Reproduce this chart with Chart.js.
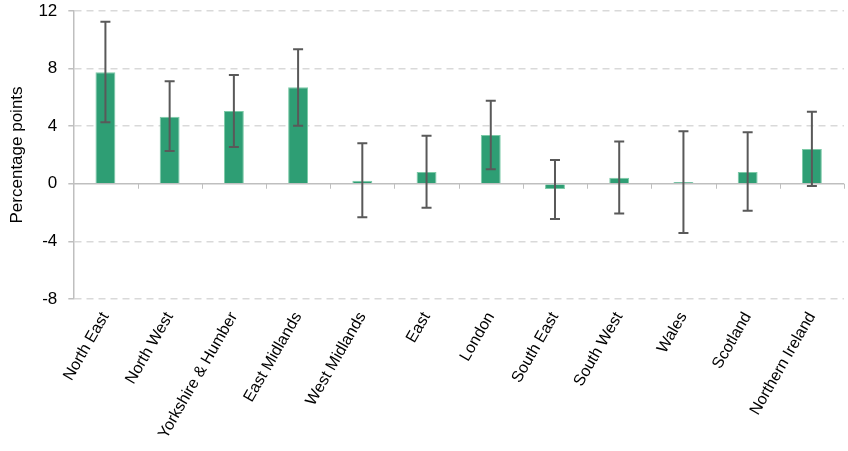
<!DOCTYPE html>
<html>
<head>
<meta charset="utf-8">
<script src="https://cdn.jsdelivr.net/npm/chart.js@4.4.1/dist/chart.umd.min.js"></script>
<style>
  html, body { margin: 0; padding: 0; background: #fff; }
  #wrap { width: 848px; height: 451px; }
</style>
</head>
<body>
<div id="wrap"><canvas id="grafico"></canvas></div>
<script>
const regiones = ['North East', 'North West', 'Yorkshire & Humber', 'East Midlands', 'West Midlands',
  'East', 'London', 'South East', 'South West', 'Wales', 'Scotland', 'Northern Ireland'];
const valores = [7.75, 4.65, 5.05, 6.7, 0.21, 0.82, 3.38, -0.37, 0.42, 0.12, 0.82, 2.42];
const limiteAlto = [11.26, 7.12, 7.56, 9.35, 2.82, 3.33, 5.77, 1.65, 2.93, 3.65, 3.58, 5.0];
const limiteBajo = [4.28, 2.28, 2.56, 4.03, -2.32, -1.67, 1.0, -2.44, -2.07, -3.42, -1.88, -0.16];
const ticksY = [-8, -4, 0, 4, 8, 12];

// barras de error + linea del cero + marcas del eje x
const barrasError = {
    id: 'barrasError',
    beforeDatasetsDraw(chart) {
        const ctx = chart.ctx;
        const x = chart.scales.x;
        const y = chart.scales.y;
        const y0 = y.getPixelForValue(0);
        ctx.save();
        ctx.strokeStyle = '#bfbfbf';
        ctx.lineWidth = 1.5;
        ctx.beginPath();
        ctx.moveTo(chart.chartArea.left, y0);
        ctx.lineTo(chart.chartArea.right, y0);
        ctx.stroke();
        ctx.lineWidth = 1;
        for (let i = 0; i < regiones.length; i++) {
            const px = Math.round((x.getPixelForValue(i) + x.getPixelForValue(i + 1)) / 2) + 0.5;
            ctx.beginPath();
            ctx.moveTo(px, y0);
            ctx.lineTo(px, y0 + 5);
            ctx.stroke();
        }
        ctx.restore();
    },
    afterDatasetsDraw(chart) {
        const ctx = chart.ctx;
        const y = chart.scales.y;
        const meta = chart.getDatasetMeta(0);
        ctx.save();
        ctx.strokeStyle = '#595959';
        ctx.lineWidth = 2;
        meta.data.forEach((bar, i) => {
            const top = y.getPixelForValue(limiteAlto[i]);
            const bot = y.getPixelForValue(limiteBajo[i]);
            ctx.beginPath();
            ctx.moveTo(bar.x, top);
            ctx.lineTo(bar.x, bot);
            ctx.moveTo(bar.x - 5, top);
            ctx.lineTo(bar.x + 5, top);
            ctx.moveTo(bar.x - 5, bot);
            ctx.lineTo(bar.x + 5, bot);
            ctx.stroke();
        });
        ctx.restore();
    }
};

const data = {
    labels: regiones,
    datasets: [{
        data: valores,
        backgroundColor: '#2e9e74',
        borderColor: '#7ccaa7',
        borderWidth: 1,
        barPercentage: 0.62,
        categoryPercentage: 0.5
    }]
};

const config = {
    type: 'bar',
    data: data,
    options: {
        responsive: true,
        maintainAspectRatio: false,
        animation: false,
        plugins: {
            legend: { display: false },
            tooltip: { enabled: false }
        },
        scales: {
            y: {
                min: -8,
                max: 12,
                afterBuildTicks: (axis) => { axis.ticks = ticksY.map(v => ({ value: v })); },
                afterFit: (axis) => { axis.paddingTop = 0; axis.paddingBottom = 0; },
                ticks: {
                    color: '#000',
                    padding: 11,
                    font: { family: 'Liberation Sans', size: 17 }
                },
                grid: {
                    color: (c) => c.tick && c.tick.value === 0 ? 'rgba(0,0,0,0)' : '#d9d9d9',
                    tickColor: '#bfbfbf',
                    tickLength: 5,
                    lineWidth: 1.5
                },
                border: {
                    display: true,
                    color: '#bfbfbf',
                    width: 1.5,
                    dash: [7, 5]
                },
                title: {
                    display: true,
                    text: 'Percentage points',
                    color: '#000',
                    padding: { top: 0, bottom: 0 },
                    font: { family: 'Liberation Sans', size: 17 }
                }
            },
            x: {
                grid: { display: false },
                border: { display: false },
                ticks: {
                    color: '#000',
                    minRotation: 60,
                    maxRotation: 60,
                    padding: 2,
                    font: { family: 'Liberation Sans', size: 16 }
                }
            }
        },
        layout: {
            padding: { top: 11, right: 4, left: 7, bottom: 7 }
        }
    },
    plugins: [barrasError]
};

const myChart = new Chart(document.getElementById('grafico'), config);
</script>
</body>
</html>
